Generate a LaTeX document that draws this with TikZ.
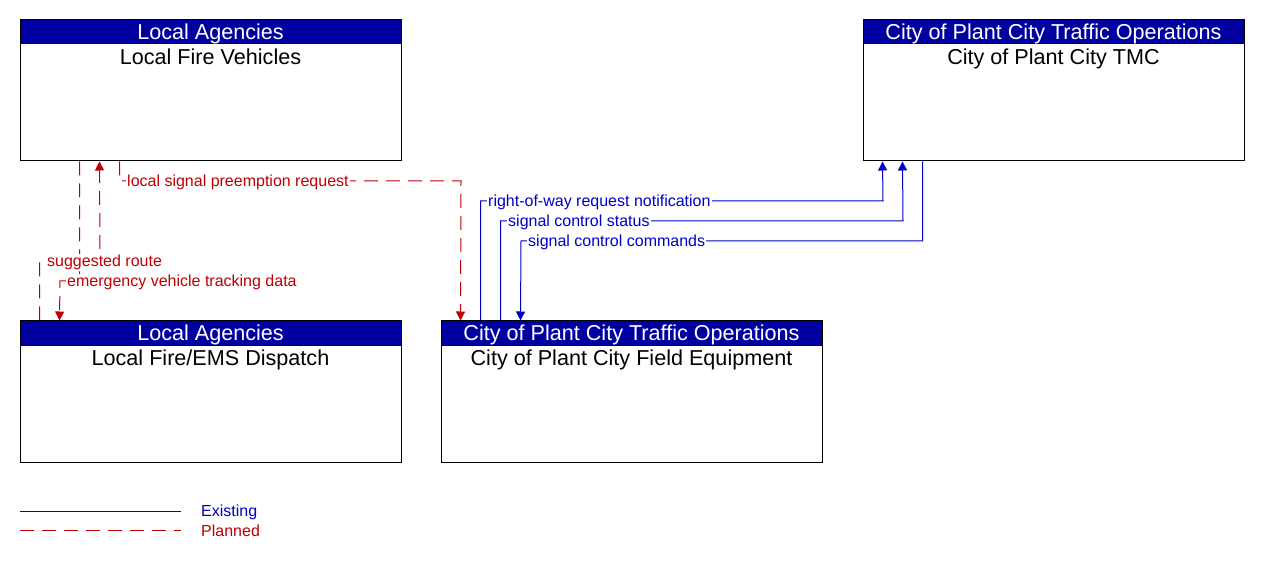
\documentclass[tikz,border=0pt]{standalone}
\usepackage{fontspec}
\setmainfont{Liberation Sans}
\usetikzlibrary{arrows.meta,calc}
\definecolor{hdr}{RGB}{0,0,160}
\definecolor{exblue}{RGB}{0,0,200}
\definecolor{plred}{RGB}{192,0,0}
\tikzset{
  body/.style={draw=black,line width=1pt,fill=white,minimum width=381pt,minimum height=141pt,inner sep=0pt},
  head/.style={draw=black,line width=1pt,fill=hdr,minimum width=381pt,minimum height=24pt,inner sep=0pt},
  htext/.style={text=white,inner sep=0pt,font=\fontsize{21.6}{22}\selectfont},
  title/.style={text=black,inner sep=0pt,font=\fontsize{21.6}{22}\selectfont},
  existing/.style={draw=exblue,line width=1pt},
  planned/.style={draw=plred,line width=1pt,dash pattern=on 14pt off 8pt},
  tip/.style={-{Triangle[width=9pt,length=9pt]}},
  lbl/.style={fill=white,inner sep=1pt,anchor=west,font=\fontsize{16}{17}\selectfont},
  exlbl/.style={lbl,text=exblue},
  pllbl/.style={lbl,text=plred},
}
\begin{document}
\begin{tikzpicture}[x=1pt,y=-1pt]
\useasboundingbox (0,0) rectangle (1261,561);
% boxes
\node[body] (fv) at (210.5,90.5) {};
\node[head,anchor=north] (fvh) at (fv.north) {};
\node[htext] (fvx) at ([yshift=-1.5pt]fvh.center) {Local Agencies};
\node[title,anchor=north] (fvt) at ([yshift=-4pt]fvh.south) {Local Fire Vehicles};

\node[body] (tmc) at (1053.5,90.5) {};
\node[head,anchor=north] (tmch) at (tmc.north) {};
\node[htext] (tmcx) at ([yshift=-1.5pt]tmch.center) {City of Plant City Traffic Operations};
\node[title,anchor=north] (tmct) at ([yshift=-4pt]tmch.south) {City of Plant City TMC};

\node[body] (ems) at (210.5,391.5) {};
\node[head,anchor=north] (emsh) at (ems.north) {};
\node[htext] (emsx) at ([yshift=-1.5pt]emsh.center) {Local Agencies};
\node[title,anchor=north] (emst) at ([yshift=-4pt]emsh.south) {Local Fire/EMS Dispatch};

\node[body] (fe) at (631.5,391.5) {};
\node[head,anchor=north] (feh) at (fe.north) {};
\node[htext] (fex) at ([yshift=-1.5pt]feh.center) {City of Plant City Traffic Operations};
\node[title,anchor=north] (fet) at ([yshift=-4pt]feh.south) {City of Plant City Field Equipment};

% planned flows
\draw[planned,tip] ($(fv.south west)+(100,0)$) |- (461,181) -- ($(fe.north west)+(20,0)$);
\node[pllbl] (l1) at (126,182) {local signal preemption request};

\draw[planned,tip] ($(ems.north west)+(20,0)$) |- (100,261) -- ($(fv.south west)+(80,0)$);
\draw[planned,tip] ($(fv.south west)+(60,0)$) |- (60,281) -- ($(ems.north west)+(40,0)$);
\node[pllbl] (l2) at (46,262) {suggested route};
\node[pllbl] (l3) at (66,282) {emergency vehicle tracking data};

% existing flows
\draw[existing,tip] ($(fe.north west)+(40,0)$) |- (883,201) -- ($(tmc.south west)+(20,0)$);
\draw[existing,tip] ($(fe.north west)+(60,0)$) |- (903,221) -- ($(tmc.south west)+(40,0)$);
\draw[existing,tip] ($(tmc.south west)+(60,0)$) |- (521,241) -- ($(fe.north west)+(80,0)$);
\node[exlbl] (l4) at (487,202) {right-of-way request notification};
\node[exlbl] (l5) at (507,222) {signal control status};
\node[exlbl] (l6) at (527,242) {signal control commands};

% legend
\coordinate (ea) at (20,511); \coordinate (eb) at (181,511);
\coordinate (pa) at (20,530); \coordinate (pb) at (181,530);
\draw[existing] (ea) -- (eb);
\draw[planned] (pa) -- (pb);
\node[lbl,fill=none,text=exblue] (le) at (200,512) {Existing};
\node[lbl,fill=none,text=plred] (lp) at (200,531) {Planned};
\end{tikzpicture}
\end{document}
